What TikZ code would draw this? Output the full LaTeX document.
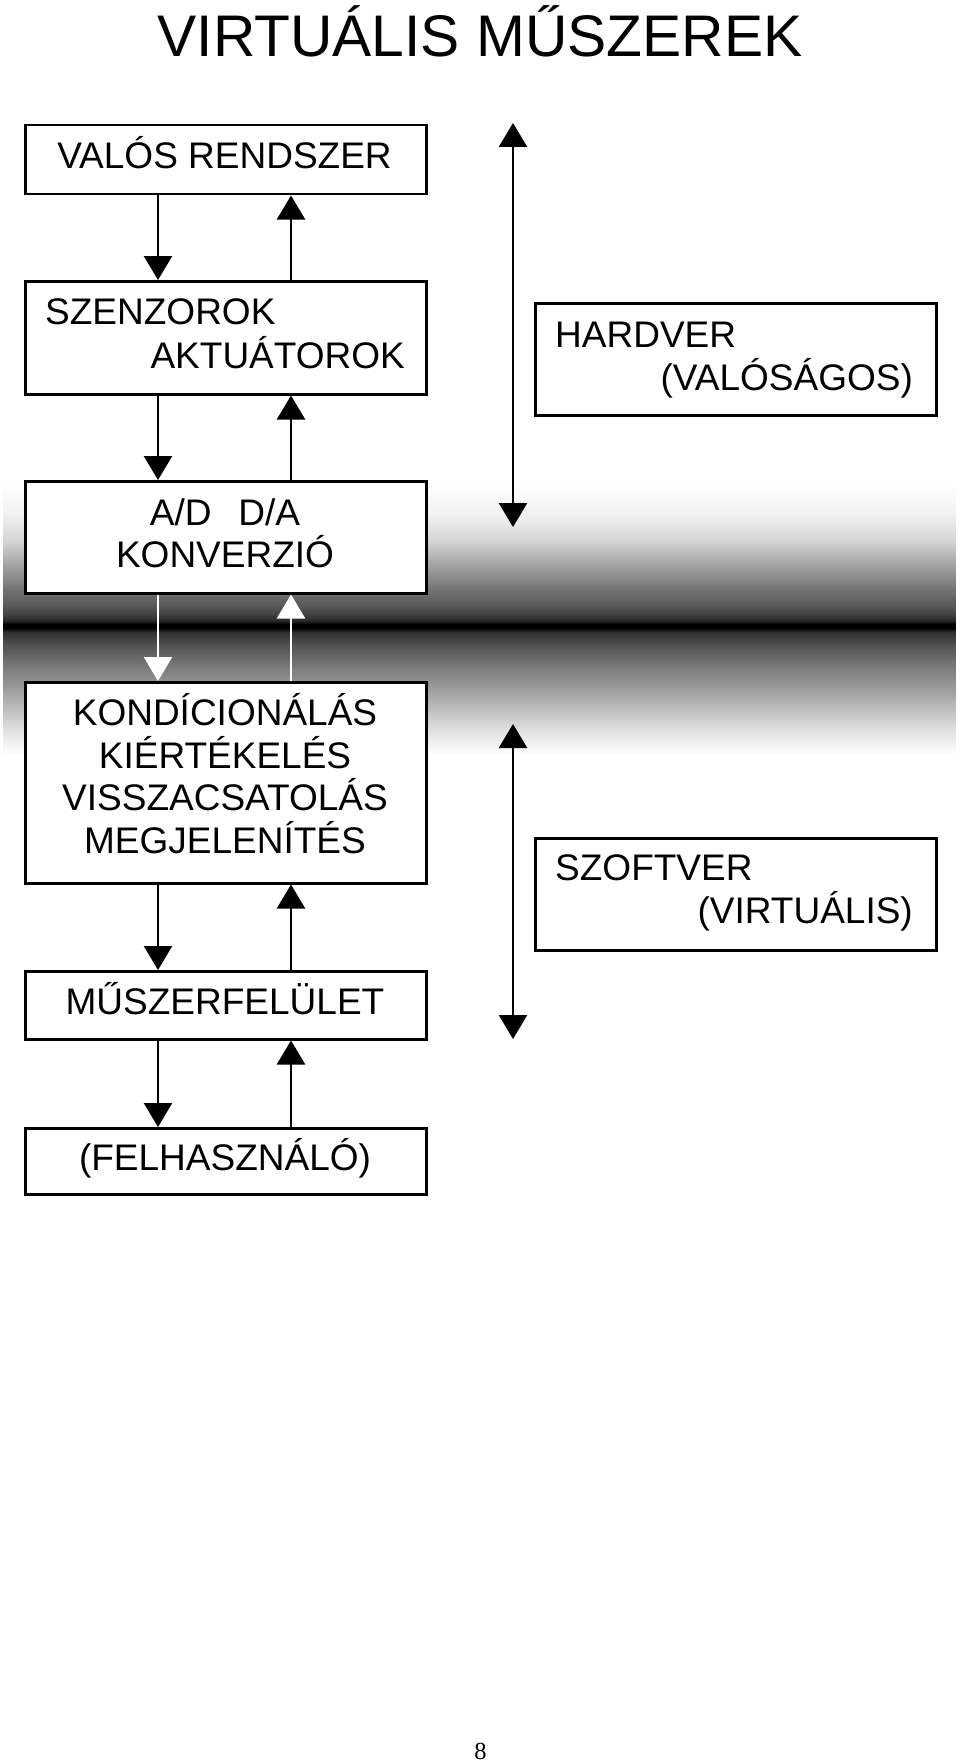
\documentclass[tikz,border=0pt]{standalone}
\usepackage{fontspec}
\setmainfont{Liberation Sans}
\newfontfamily\pagefont{Liberation Serif}
\usetikzlibrary{arrows.meta}
\begin{document}
\begin{tikzpicture}[x=1pt,y=-1pt,
  box/.style={draw, line width=2.5pt, fill=white, inner sep=0pt, anchor=north west, minimum width=401pt},
  lbl/.style={font=\fontsize{37}{44}\selectfont, inner sep=0pt},
  arr/.style={line width=2.5pt, -{Triangle[width=28pt,length=24pt]}},
  darr/.style={line width=2.5pt, {Triangle[width=28pt,length=24pt]}-{Triangle[width=28pt,length=24pt]}},
]
\useasboundingbox (0,0) rectangle (960,1763);
\fill[white] (0,0) rectangle (960,1763);
% gradient band, drawn as thin horizontal strips
\foreach \ya/\da/\yb/\db in {485/0/515/6, 515/6/540/16, 540/16/555/28, 555/28/570/40,
  570/40/590/55, 590/55/605/65, 605/65/615/75, 615/75/621/85, 621/85/624/100,
  624/100/628/100, 628/100/632/82, 632/82/645/68, 645/68/670/50, 670/50/690/38,
  690/38/705/28, 705/28/730/12, 730/12/755/0} {
  \pgfmathtruncatemacro\ybm{\yb-1}
  \foreach \yy in {\ya,...,\ybm} {
    \pgfmathsetmacro\dd{\da+(\db-\da)*(\yy-\ya)/(\yb-\ya)}
    \fill[black!\dd] (3,\yy) rectangle (956,\yy+1.1);
  }
}

% title
\node[font=\fontsize{58.7}{70}\selectfont, anchor=base, inner sep=0pt] (title) at (480,57) {VIRTUÁLIS MŰSZEREK};

% left column boxes
\node[box, minimum height=69pt]  (valos) at (24,124) {};
\node[box, minimum height=113pt] (szenz) at (24,280) {};
\node[box, minimum height=112pt] (ad)    at (24,480) {};
\node[box, minimum height=201pt] (kond)  at (24,681) {};
\node[box, minimum height=68pt]  (musz)  at (24,970) {};
\node[box, minimum height=66pt]  (felh)  at (24,1127) {};

% right column boxes
\node[box, minimum height=112pt] (hw) at (534,302) {};
\node[box, minimum height=112pt] (sw) at (534,837) {};

% texts
\node[lbl, anchor=base] (tvalos) at (224.5,169) {VALÓS RENDSZER};
\node[lbl, anchor=base west] (tszenz1) at (45,324) {SZENZOROK};
\node[lbl, anchor=base east] (tszenz2) at (405,368) {AKTUÁTOROK};
\node[lbl, anchor=base] (tad1) at (225,525) {A/D\hspace{27pt}D/A};
\node[lbl, anchor=base] (tad2) at (225,567) {KONVERZIÓ};
\node[lbl, anchor=base] (tk1) at (225,725) {KONDÍCIONÁLÁS};
\node[lbl, anchor=base] (tk2) at (225,768) {KIÉRTÉKELÉS};
\node[lbl, anchor=base] (tk3) at (225,810) {VISSZACSATOLÁS};
\node[lbl, anchor=base] (tk4) at (225,853) {MEGJELENÍTÉS};
\node[lbl, anchor=base] (tmusz) at (225,1014) {MŰSZERFELÜLET};
\node[lbl, anchor=base] (tfelh) at (225,1170) {(FELHASZNÁLÓ)};
\node[lbl, anchor=base west] (thw1) at (555,347) {HARDVER};
\node[lbl, anchor=base east] (thw2) at (913,390) {(VALÓSÁGOS)};
\node[lbl, anchor=base west] (tsw1) at (555,880) {SZOFTVER};
\node[lbl, anchor=base east] (tsw2) at (913,923) {(VIRTUÁLIS)};

% page number
\node[font=\pagefont\fontsize{24.5}{28}\selectfont, anchor=base, inner sep=0pt] (pg) at (480.5,1759) {8};

% connector x positions
\coordinate (xl) at (158,0);
\coordinate (xr) at (291,0);

\draw[arr] (valos.south -| xl) -- (szenz.north -| xl);
\draw[arr] (szenz.north -| xr) -- (valos.south -| xr);
\draw[arr] (szenz.south -| xl) -- (ad.north -| xl);
\draw[arr] (ad.north -| xr) -- (szenz.south -| xr);
\draw[arr, white] (ad.south -| xl) -- (kond.north -| xl);
\draw[arr, white] (kond.north -| xr) -- (ad.south -| xr);
\draw[arr] (kond.south -| xl) -- (musz.north -| xl);
\draw[arr] (musz.north -| xr) -- (kond.south -| xr);
\draw[arr] (musz.south -| xl) -- (felh.north -| xl);
\draw[arr] (felh.north -| xr) -- (musz.south -| xr);

% double arrows
\coordinate (hwtop) at (513,123);
\coordinate (hwbot) at (513,527);
\coordinate (swtop) at (513,724);
\coordinate (swbot) at (513,1039);
\draw[darr] (hwtop) -- (hwbot);
\draw[darr] (swtop) -- (swbot);
\end{tikzpicture}
\end{document}
